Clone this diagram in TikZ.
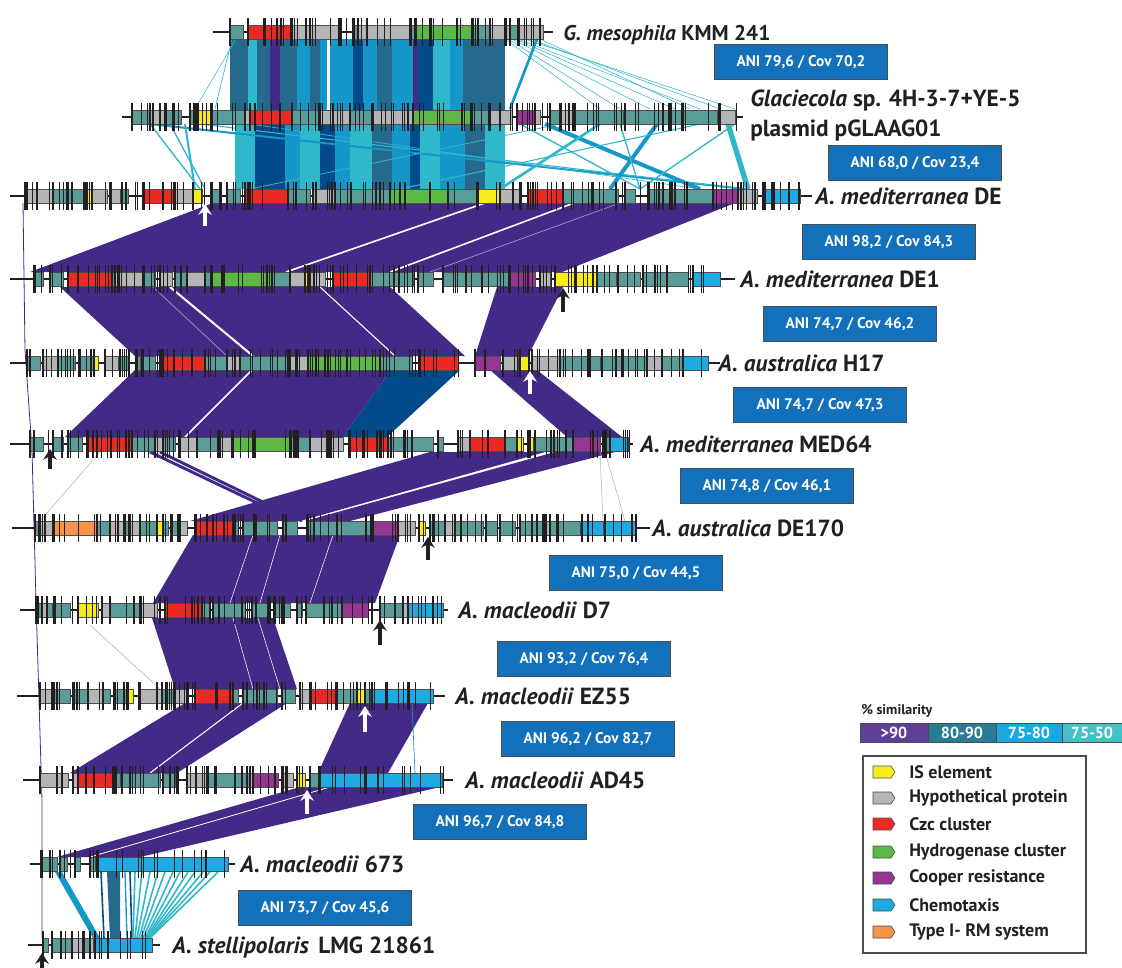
\documentclass[tikz,border=0pt]{standalone}
\usepackage{fontspec}
\setmainfont{PT Sans}
\usetikzlibrary{arrows.meta}

\definecolor{cT}{HTML}{5A9C98}
\definecolor{cG}{HTML}{B3B5B7}
\definecolor{cR}{HTML}{EC2A24}
\definecolor{cY}{HTML}{F7EC1B}
\definecolor{cN}{HTML}{5CB946}
\definecolor{cP}{HTML}{953693}
\definecolor{cB}{HTML}{1EABE1}
\definecolor{cO}{HTML}{F6944B}
\definecolor{sP}{HTML}{432A87}
\definecolor{sD}{HTML}{256A8C}
\definecolor{sB}{HTML}{1597C9}
\definecolor{sC}{HTML}{2EB8C9}
\definecolor{sK}{HTML}{024B8B}
\definecolor{anifill}{HTML}{1271BA}
\definecolor{txt}{HTML}{231F20}
\definecolor{l90}{HTML}{603F97}
\definecolor{l80}{HTML}{2A7C92}
\definecolor{l75}{HTML}{1CA8DF}
\definecolor{l50}{HTML}{44C0C6}

\tikzset{
  backbone/.style={draw=txt, line width=1.5pt},
  gene/.style={draw=black!70, line width=0.45pt},
  tickmark/.style={draw=txt, line width=0.85pt},
  ribbon/.style={fill=sP},
  ani/.style={draw=black!70, fill=anifill, line width=0.6pt, minimum width=130pt,
    minimum height=26pt, text=white, font=\bfseries\fontsize{11.5}{13}\selectfont},
  strain/.style={anchor=base west, inner sep=0pt, text=txt,
    font=\bfseries\fontsize{17.5}{22.5}\selectfont},
  legtext/.style={anchor=west, inner sep=0pt, text=txt, font=\bfseries\fontsize{13.5}{15}\selectfont},
  uparrow/.style={-{Stealth[length=8pt,width=10pt]}, line width=2.4pt},
}

% #1 y, #2-#3 backbone, #4-#5 tick range, #6 number of ticks, #7 genes
\newcommand\genetrack[7]{%
  \draw[backbone] (#2,#1) -- (#3,#1);
  \foreach \ga/\gb/\gc in {#7} {
    \draw[gene, fill=\gc] (\ga,#1-7) rectangle (\gb,#1+7);
    \draw[tickmark] (\ga,#1-14) -- (\ga,#1+14);
  }
  \foreach \k in {1,...,#6} {
    \pgfmathsetmacro\tx{#4+rnd*(#5-#4)}
    \draw[tickmark] (\tx,#1-14) -- (\tx,#1+14);
  }
}

\begin{document}
\begin{tikzpicture}[x=0.75pt, y=-0.75pt]
\useasboundingbox (0,0) rectangle (1122,968);
\pgfmathsetseed{7}

% blast hits between neighbouring genomes
\foreach \a/\b/\c in {230/248/sD, 248/257/sC, 257/270/sD, 270/280/sP, 280/297/sD,
  297/310/sB, 310/320/sD, 320/327/sB, 330/353/sB, 353/363/sK, 363/377/sB,
  377/392/sD, 392/413/sB, 413/418/sP, 418/433/sK, 433/450/sC, 450/463/sB,
  463/487/sD, 487/505/sD}
  \fill[\c] (\a,39) rectangle (\b,110);
\foreach \a/\b/\c in {235/255/sC, 255/285/sK, 285/300/sB, 300/320/sC, 320/335/sK,
  335/350/sB, 350/372/sC, 372/392/sD, 392/410/sB, 410/420/sK, 420/440/sC,
  440/465/sB, 465/485/sD, 485/505/sC}
  \fill[\c] (\a,124) rectangle (\b,189);
\foreach \xa/\ya/\xb/\yb/\c/\w in {505/39/600/109/sC/0.4pt, 512/39/650/109/sC/0.4pt,
  518/39/700/109/sC/0.4pt, 525/39/735/109/sC/0.4pt, 530/39/720/109/sC/0.4pt,
  540/39/690/109/sC/0.4pt, 508/39/620/109/sC/0.4pt, 515/39/675/109/sC/0.4pt,
  537/39/510/109/sB/2pt, 232/39/215/109/sC/0.5pt, 236/39/195/109/sC/0.4pt,
  150/124/745/189/sB/1.5pt, 200/124/745/189/sC/0.8pt, 250/124/700/189/sC/0.5pt,
  545/124/700/189/sB/3pt, 600/124/500/189/sC/2pt, 657/124/610/189/sB/3pt,
  728/124/748/189/sC/4pt, 700/124/400/189/sC/0.8pt, 560/124/250/189/sC/0.6pt,
  735/124/640/189/sC/1pt, 620/124/640/189/sC/1pt, 520/124/640/189/sC/1pt,
  150/124/200/189/sC/1pt, 170/124/205/189/sC/1pt, 185/124/195/189/sC/1.5pt}
  \draw[\c, line width=\w] (\xa,\ya) -- (\xb,\yb);

\foreach \ya/\yb/\a/\b/\c/\d in {203/272/213/735/562/30, 287/356/60/390/465/135,
  287/356/497/563/528/475, 370/437/135/391/343/65, 370/437/490/537/622/567,
  452/521/430/545/300/190, 452/521/555/615/350/305, 535/603/193/400/375/153,
  618/689/152/273/297/175, 703/773/185/287/177/70, 703/773/350/428/388/318,
  787/857/300/440/140/57}
  \fill[ribbon] (\a,\ya) -- (\b,\ya) -- (\c,\yb) -- (\d,\yb) -- cycle;
\fill[sK] (391,370) -- (460,370) -- (387,437) -- (343,437) -- cycle;
\draw[sP, line width=2.2pt] (150,452) -- (295,521);
\draw[sP, line width=2.2pt] (160,452) -- (302,521);
\foreach \xa/\ya/\xb/\yb/\w in {485/203/286/272/1.2pt, 574/203/390/272/1.2pt,
  170/287/253/356/1.5pt, 320/287/395/356/0.8pt, 252/370/185/437/1.2pt,
  253/535/230/603/0.4pt, 280/535/260/603/0.4pt, 333/535/310/603/0.4pt,
  233/618/253/689/0.4pt, 258/618/280/689/0.4pt, 243/703/150/773/0.8pt,
  330/787/90/857/0.6pt}
  \draw[white, line width=\w] (\xa,\ya) -- (\xb,\yb);
\foreach \xa/\ya/\xb/\yb in {620/203/430/272, 153/287/227/356, 100/452/40/521,
  600/452/603/521, 605/452/625/521, 90/625/160/689}
  \draw[sP!40, line width=0.4pt] (\xa,\ya) -- (\xb,\yb);
\draw[sB, line width=0.5pt] (412,703) -- (415,773);
\draw[sP, line width=0.6pt] (23,203) -- (25,350) -- (32,450) -- (36,600) -- (42,800) -- (42,938);
\fill[sB] (55,872) -- (62,872) -- (100,938) -- (93,938) -- cycle;
\fill[sD] (107,872) -- (120,872) -- (120,938) -- (110,938) -- cycle;
\draw[sK, line width=1.2pt] (101,872) -- (104,938);
\draw[sK, line width=1.2pt] (130,872) -- (132,938);
\draw[sB, line width=1pt] (125,872) -- (127,938);
\foreach \t/\b in {135/133, 142/135, 150/137, 158/139, 165/141, 173/143,
  180/145, 188/146, 195/147, 203/148, 210/149, 218/150}
  \draw[sC, line width=1.2pt] (\t,872) -- (\b,938);

% genomes
\genetrack{32}{213}{553}{228}{545}{55}{230/243/cT, 248/292/cR, 292/338/cG,
  353/358/cT, 358/410/cG, 410/415/cT, 415/472/cN, 472/490/cT, 490/510/cG,
  510/518/cT, 518/543/cG}
\genetrack{117}{122}{743}{130}{738}{110}{132/150/cT, 150/165/cG, 165/181/cT,
  190/198/cT, 198/212/cY, 212/245/cT, 245/250/cG, 250/292/cR, 292/318/cT,
  320/350/cG, 350/372/cT, 372/412/cG, 413/472/cN, 472/490/cT, 490/512/cG,
  517/535/cP, 535/540/cG, 550/560/cT, 560/572/cG, 574/623/cT, 625/663/cT,
  663/717/cT, 720/735/cG}
\genetrack{196}{10}{812}{25}{800}{140}{27/53/cG, 53/72/cT, 72/85/cT, 86/91/cY,
  92/107/cG, 110/120/cG, 122/128/cT, 143/175/cR, 175/193/cG, 193/202/cY,
  211/220/cT, 227/240/cT, 245/288/cR, 288/310/cT, 313/335/cG, 335/390/cT,
  390/448/cN, 448/478/cT, 478/500/cY, 500/520/cG, 528/563/cR, 563/618/cT,
  625/635/cT, 648/713/cT, 713/738/cP, 738/757/cG, 765/800/cB}
\genetrack{279}{10}{735}{30}{722}{130}{34/43/cT, 50/63/cT, 68/112/cR, 112/115/cT,
  115/142/cG, 143/155/cT, 160/172/cG, 175/187/cT, 187/205/cG, 205/212/cT,
  212/272/cN, 272/290/cT, 290/305/cG, 305/308/cY, 308/325/cG, 333/370/cR,
  370/413/cT, 418/433/cT, 443/510/cT, 510/535/cP, 540/550/cG, 555/597/cY,
  597/616/cT, 618/640/cT, 643/688/cT, 693/720/cB}
\genetrack{363}{10}{720}{25}{710}{125}{27/40/cT, 43/58/cG, 58/75/cT, 80/93/cT,
  94/98/cY, 105/118/cG, 120/128/cT, 137/140/cT, 143/155/cT, 160/163/cT,
  163/205/cR, 205/227/cT, 227/240/cG, 240/290/cT, 290/308/cG, 308/380/cN,
  380/412/cT, 420/458/cR, 475/500/cP, 503/518/cG, 520/528/cY, 532/560/cG,
  560/587/cT, 588/600/cT, 602/647/cT, 647/662/cG, 662/682/cT, 683/708/cB}
\genetrack{444}{10}{633}{28}{630}{110}{30/43/cT, 53/63/cT, 68/82/cT, 88/132/cR,
  132/155/cT, 155/162/cG, 163/175/cT, 180/197/cG, 197/217/cT, 220/233/cG,
  233/290/cN, 290/310/cT, 310/328/cG, 328/330/cY, 330/343/cG, 350/388/cR,
  388/433/cT, 438/443/cT, 458/470/cG, 470/505/cR, 505/517/cT, 517/523/cY,
  530/533/cY, 535/573/cT, 573/600/cP, 603/610/cT, 610/628/cB}
\genetrack{528}{12}{650}{32}{638}{95}{35/40/cT, 40/53/cG, 53/97/cO, 97/110/cT,
  110/125/cG, 125/130/cT, 130/140/cG, 140/157/cT, 157/162/cY, 163/168/cT,
  172/180/cT, 180/187/cG, 195/233/cR, 233/238/cT, 243/277/cT, 283/297/cT,
  307/337/cT, 337/370/cT, 373/398/cP, 398/415/cG, 419/425/cY, 430/445/cT,
  445/455/cG, 455/483/cT, 486/497/cT, 500/515/cT, 520/545/cT, 545/550/cG,
  550/580/cT, 582/603/cB, 605/636/cB}
\genetrack{610}{20}{448}{35}{445}{70}{37/42/cT, 42/47/cG, 47/52/cT, 55/70/cT,
  78/98/cY, 102/110/cG, 110/140/cT, 140/157/cG, 165/202/cR, 202/210/cT,
  213/245/cT, 252/267/cT, 275/290/cT, 297/302/cT, 306/342/cT, 342/368/cP,
  380/395/cT, 395/403/cT, 403/408/cG, 408/443/cB}
\genetrack{696}{17}{445}{38}{435}{70}{40/52/cG, 52/70/cT, 73/88/cT, 88/102/cG,
  103/110/cT, 115/127/cT, 128/133/cY, 140/162/cG, 162/175/cT, 175/187/cG,
  195/233/cR, 233/238/cT, 243/277/cT, 282/295/cT, 300/310/cG, 310/337/cR,
  337/357/cT, 357/365/cY, 365/370/cT, 372/433/cB}
\genetrack{780}{23}{453}{38}{445}{70}{40/68/cG, 73/78/cG, 78/113/cR, 113/120/cT,
  122/160/cT, 163/175/cT, 187/207/cG, 207/216/cT, 216/250/cT, 250/253/cG,
  253/278/cP, 282/293/cG, 297/305/cY, 310/318/cT, 320/442/cB}
\genetrack{864}{30}{235}{40}{230}{22}{42/50/cT, 50/57/cT, 60/67/cT, 75/80/cT,
  90/95/cT, 98/228/cB}
\genetrack{945}{28}{160}{42}{153}{12}{43/48/cT, 52/72/cT, 72/83/cG, 83/90/cT,
  90/93/cG, 95/152/cB}

% IS arrows
\draw[uparrow, white] (205,226) -- (205,204);
\draw[uparrow, txt] (563,312) -- (563,288);
\draw[uparrow, white] (530,394) -- (530,371);
\draw[uparrow, txt] (50,469) -- (50,449);
\draw[uparrow, txt] (428,560) -- (428,537);
\draw[uparrow, txt] (380,645) -- (380,620);
\draw[uparrow, white] (365,732) -- (365,706);
\draw[uparrow, white] (307,814) -- (307,790);
\draw[uparrow, txt] (42,970) -- (42,953);

% strain names
\node[strain, font=\bfseries\fontsize{16}{20}\selectfont] (gmes) at (563,40) {\textit{G. mesophila} KMM 241};
\node[strain] (glac) at (750,106) {\textit{Glaciecola} sp. 4H-3-7+YE-5};
\node[strain] (glacp) at (750,136) {plasmid pGLAAG01};
\node[strain] (amde) at (815,204) {\textit{A. mediterranea} DE};
\node[strain] (amde1) at (740,287) {\textit{A. mediterranea} DE1};
\node[strain] (auh17) at (718,371) {\textit{A. australica} H17};
\node[strain] (amed64) at (640,452) {\textit{A. mediterranea} MED64};
\node[strain] (au170) at (652,536) {\textit{A. australica} DE170};
\node[strain] (amd7) at (458,618) {\textit{A. macleodii} D7};
\node[strain] (amez) at (455,704) {\textit{A. macleodii} EZ55};
\node[strain] (amad) at (465,788) {\textit{A. macleodii} AD45};
\node[strain] (am673) at (240,872) {\textit{A. macleodii} 673};
\node[strain] (aste) at (172,953) {\textit{A. stellipolaris}\hspace{7pt}LMG 21861};

% ANI values
\node[ani] (ani1) at (801,62) {ANI 79,6 / Cov 70,2};
\node[ani] (ani2) at (915,163) {ANI 68,0 / Cov 23,4};
\node[ani] (ani3) at (889,242) {ANI 98,2 / Cov 84,3};
\node[ani] (ani4) at (850,324) {ANI 74,7 / Cov 46,2};
\node[ani] (ani5) at (820,405) {ANI 74,7 / Cov 47,3};
\node[ani] (ani6) at (767,486) {ANI 74,8 / Cov 46,1};
\node[ani] (ani7) at (636,573) {ANI 75,0 / Cov 44,5};
\node[ani] (ani8) at (584,659) {ANI 93,2 / Cov 76,4};
\node[ani] (ani9) at (588,739) {ANI 96,2 / Cov 82,7};
\node[ani] (ani10) at (500,822) {ANI 96,7 / Cov 84,8};
\node[ani] (ani11) at (325,908) {ANI 73,7 / Cov 45,6};

% legend
\node[anchor=west, inner sep=0pt, text=txt, font=\bfseries\fontsize{10.5}{12}\selectfont]
  (simtitle) at (861,711) {\% similarity};
\foreach \a/\b/\c/\t in {860/928/l90/{>90}, 928/996/l80/80-90, 996/1062/l75/75-80, 1062/1122/l50/75-50} {
  \draw[fill=\c, draw=black!70, line width=0.6pt] (\a,723) rectangle (\b,742);
  \node[text=white, font=\bfseries\fontsize{12}{13}\selectfont] (bar-\c) at ({(\a+\b)/2},732.5) {\t};
}
\draw[black!70, line width=0.8pt] (863,756) rectangle (1086,953);
\foreach \y/\c/\t/\n in {772/cY/IS element/is, 798/cG/Hypothetical protein/hyp,
  824/cR/Czc cluster/czc, 852/cN/Hydrogenase cluster/hyd, 878/cP/Cooper resistance/cop,
  905/cB/Chemotaxis/che, 932/cO/Type I- RM system/rm} {
  \draw[gene, fill=\c] (873,\y-6) -- (891,\y-6) -- (895,\y) -- (891,\y+6) -- (873,\y+6) -- cycle;
  \node[legtext] (leg-\n) at (909,\y) {\t};
}
\end{tikzpicture}
\end{document}
